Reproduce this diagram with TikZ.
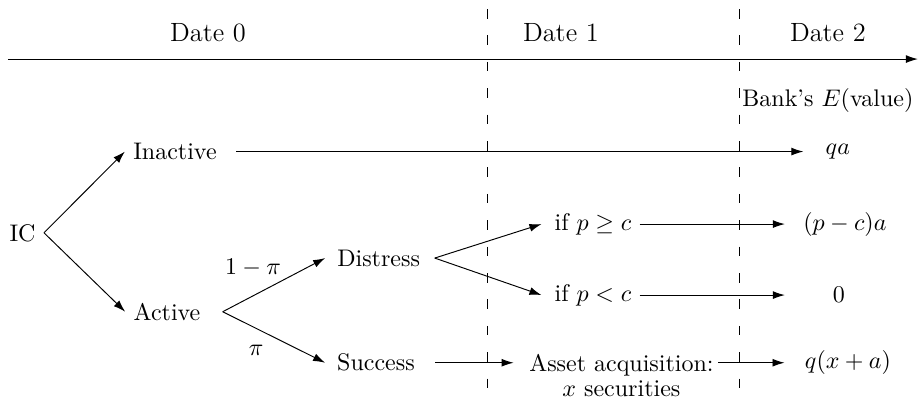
\documentclass[tikz,border=0pt]{standalone}
\usetikzlibrary{arrows.meta}

\tikzset{etq/.style={inner sep=3.33pt},
  fecha/.style={font=\fontsize{11}{13}\selectfont},
  flecha/.style={-{Latex[length=5pt,width=3.3pt]}},
  corte/.style={dash pattern=on 4pt off 7pt}}

\begin{document}
\begin{tikzpicture}
  \useasboundingbox (0,0) rectangle (13.49,5.83);
  % time line
  \draw[flecha] (0.117,4.965) -- (13.444,4.965);
  \draw[corte] (7.147,5.697) -- (7.147,0);
  \draw[corte] (10.837,5.697) -- (10.837,0);
  \node[fecha] (d0) at (3.046,5.345) {Date 0};
  \node[fecha] (d1) at (8.216,5.345) {Date 1};
  \node[fecha] (d2) at (12.126,5.345) {Date 2};
  \node[inner sep=1pt] (bank) at (12.126,4.364) {Bank's $E$(value)};
  % tree
  \node[etq] (ic) at (0.33,2.42) {IC};
  \node[etq] (inact) at (2.563,3.61) {Inactive};
  \node[etq] (act) at (2.446,1.264) {Active};
  \node[etq] (dis) at (5.546,2.05) {Distress};
  \node[etq] (succ) at (5.507,0.517) {Success};
  \node[etq] (ifge) at (8.685,2.548) {if $p\geq c$};
  \node[etq] (iflt) at (8.685,1.508) {if $p<c$};
  \node[etq, align=center] (asset) at (9.102,0.329) {Asset acquisition:\\[-1.7pt] $x$ securities};
  \node[etq] (qa) at (12.272,3.61) {$qa$};
  \node[etq] (pca) at (12.375,2.548) {$(p-c)a$};
  \node[etq] (zero) at (12.287,1.508) {$0$};
  \node[etq] (qxa) at (12.42,0.517) {$q(x+a)$};
  \node (lp) at (3.705,1.904) {$1-\pi$};
  \node (p) at (3.75,0.703) {$\pi$};
  \coordinate (endcol) at (11.496,0);

  \draw[flecha] (ic.east) -- (inact.west);
  \draw[flecha] (ic.east) -- (act.west);
  \draw[flecha] ([xshift=5.8pt]act.east) -- ([xshift=-1.5pt]dis.west);
  \draw[flecha] ([xshift=5.8pt]act.east) -- ([xshift=-1.5pt]succ.west);
  \draw[flecha] ([xshift=2.6pt]dis.east) -- ([xshift=-2pt]ifge.west);
  \draw[flecha] ([xshift=2.6pt]dis.east) -- ([xshift=-2pt]iflt.west);
  \draw[flecha] (ifge.east) -- (ifge.east -| endcol);
  \draw[flecha] (iflt.east) -- (iflt.east -| endcol);
  \draw[flecha, shorten <=4.6pt, shorten >=5.8pt] (inact.east) -- (qa.west);
  \draw[flecha, shorten <=5pt, shorten >=3pt] (succ.east) -- (succ.east -| asset.west);
  \draw[flecha, shorten <=-1.5pt, shorten >=5pt] (succ.east -| asset.east) -- (qxa.west);
\end{tikzpicture}
\end{document}
